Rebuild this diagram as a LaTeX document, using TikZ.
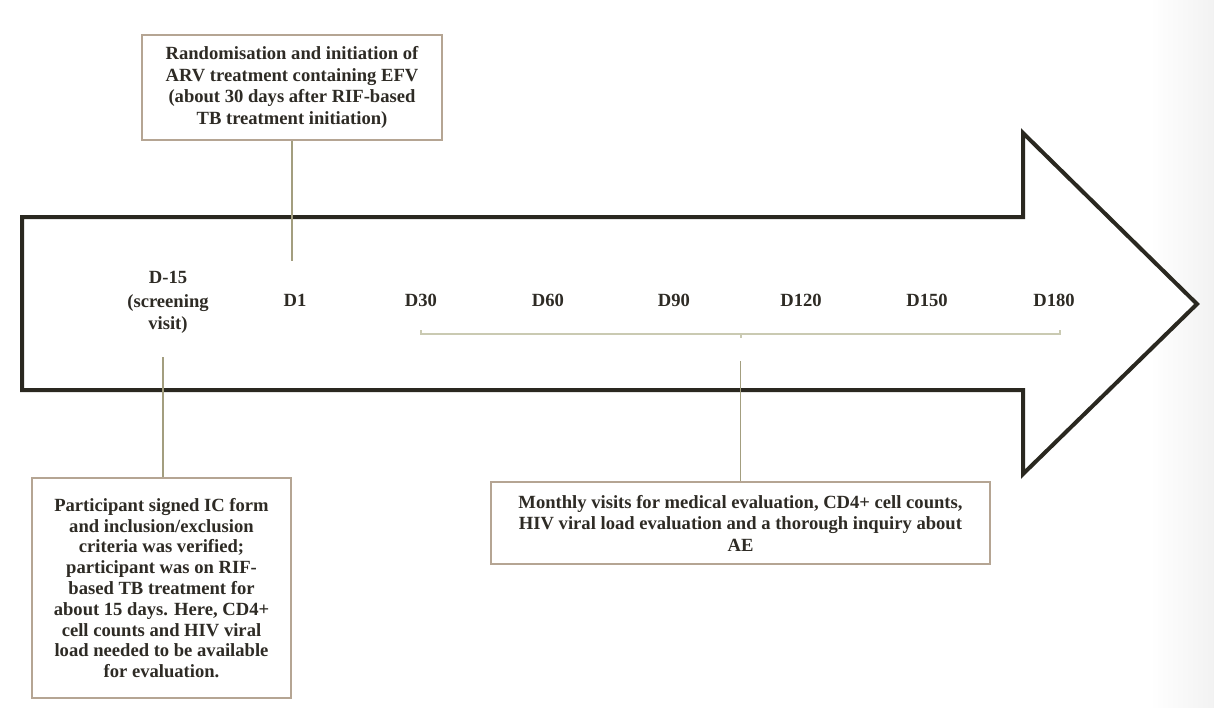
\documentclass[tikz,border=0pt]{standalone}
\usepackage{fontspec}
\setmainfont{Liberation Serif}
\usetikzlibrary{calc}
\definecolor{arrowc}{HTML}{2A2820}
\definecolor{boxc}{HTML}{B5A593}
\definecolor{linec}{HTML}{A39E7F}
\definecolor{bracec}{HTML}{CACAB2}
\definecolor{textc}{HTML}{2E2B25}
\begin{document}
\begin{tikzpicture}[x=1pt,y=-1pt,
  txt/.style={font=\fontsize{18.6}{21.5}\selectfont\bfseries, text=textc, align=center, inner sep=0pt},
  infobox/.style={txt, draw=boxc, line width=1.5pt, fill=white},
  conn/.style={draw=linec, line width=1.2pt},
  brace/.style={draw=bracec, line width=2pt},
  bigarrow/.style={draw=arrowc, line width=4pt, line join=miter, fill=white}]
\useasboundingbox (0,0) rectangle (1214,707);
\fill[white] (0,0) rectangle (1214,707);
\shade[left color=white, right color=black!5] (1150,0) rectangle (1214,707);
% big arrow
\path[bigarrow] (22,217) -- (1023,217) -- (1023,133) -- (1197,304) -- (1023,474) -- (1023,390) -- (22,390) -- cycle;
% boxes
\node[infobox, minimum width=300pt, minimum height=105pt] (top) at (292,87.5)
  {Randomisation and initiation of\\ARV treatment containing EFV\\(about 30 days after RIF-based\\TB treatment initiation)};
\node[infobox, minimum width=259pt, minimum height=220pt, font=\fontsize{18.6}{20.8}\selectfont\bfseries] (left) at (161.5,588)
  {Participant signed IC form\\and inclusion/exclusion\\criteria was verified;\\participant was on RIF-\\based TB treatment for\\about 15 days. Here, CD4+\\cell counts and HIV viral\\load needed to be available\\for evaluation.};
\node[infobox, minimum width=499pt, minimum height=82pt] (right) at (740.5,523)
  {Monthly visits for medical evaluation, CD4+ cell counts,\\HIV viral load evaluation and a thorough inquiry about\\AE};
% day labels
\node[txt] (dm15) at (168,277) {D-15};
\node[txt] (scr) at (168,314) {(screening\\visit)};
\node[txt] (d1) at (295,300) {D1};
\node[txt] (d30) at (421,300) {D30};
\node[txt] (d60) at (548,300) {D60};
\node[txt] (d90) at (674,300) {D90};
\node[txt] (d120) at (801,300) {D120};
\node[txt] (d150) at (927,300) {D150};
\node[txt] (d180) at (1054,300) {D180};
% connectors
\coordinate (topend) at (top.south |- 0,261);
\draw[conn] (top.south) -- (topend);
\coordinate (leftend) at (163,357);
\draw[conn] (leftend) -- (leftend |- left.north);
\coordinate (rightend) at (right.north |- 0,361);
\draw[conn] (rightend) -- (right.north);
% brace
\coordinate (bl) at (421,334);
\coordinate (br) at (1060,334);
\coordinate (bm) at (741,334);
\draw[brace] ($(bl)+(0,-4)$) -- (bl) -- (br) -- ++(0,-4);
\draw[brace] (bm) -- ++(0,4);
\end{tikzpicture}
\end{document}
